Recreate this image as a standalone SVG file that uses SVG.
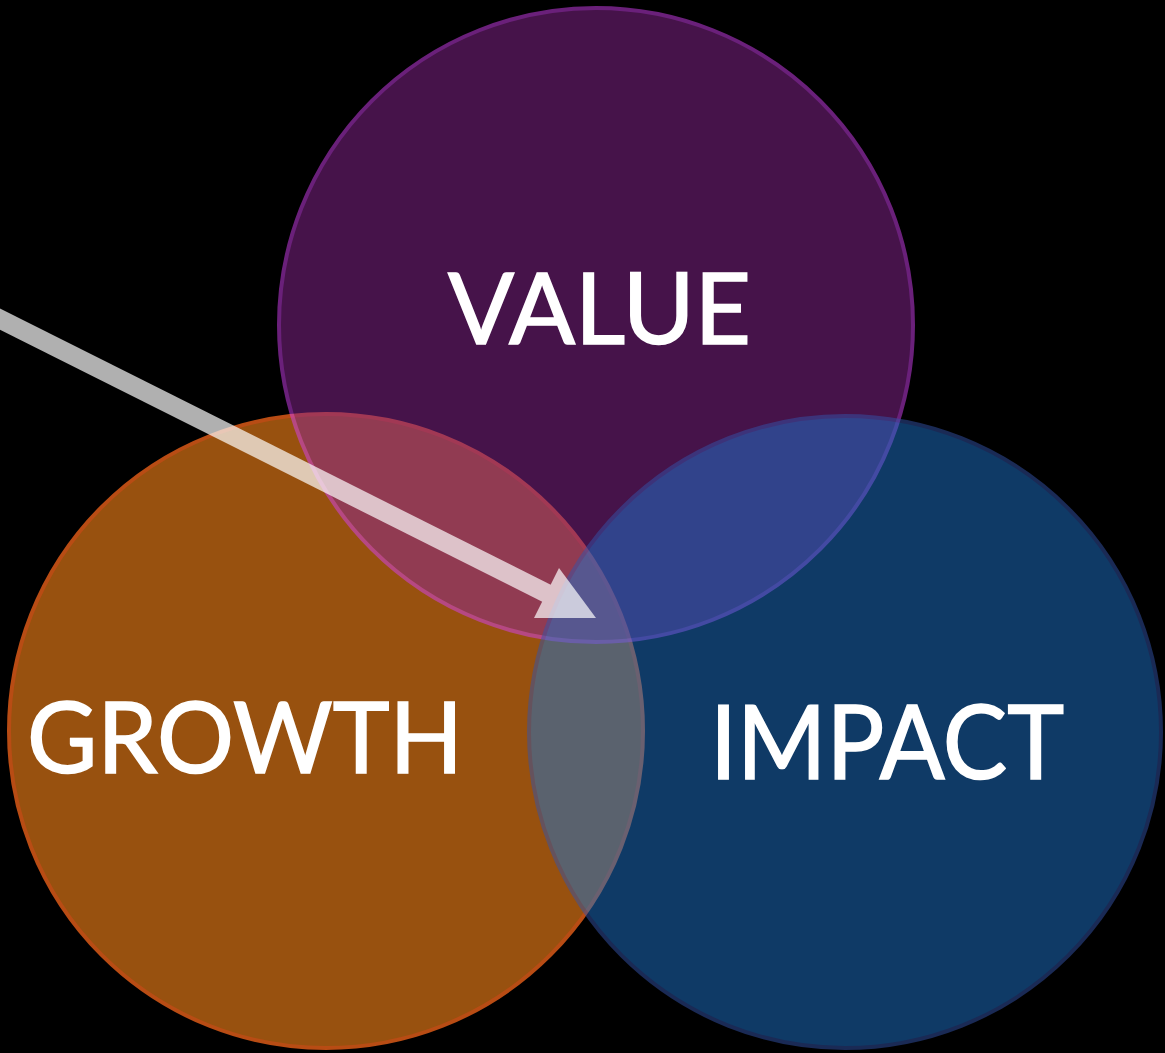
<svg xmlns="http://www.w3.org/2000/svg" width="1165" height="1053" viewBox="0 0 1165 1053">
  <style>
    .label { font-family: Lato, "Liberation Sans", sans-serif; font-weight: 400; fill: #ffffff; stroke: #ffffff; stroke-width: 1.6; stroke-linejoin: miter; }
    .ring { stroke-width: 4; }
  </style>
  <rect x="0" y="0" width="1165" height="1053" fill="#000000"/>
  <g id="node-growth">
    <circle class="ring" cx="326" cy="731" r="317" fill="#98510f" stroke="#b84c14"/>
  </g>
  <g id="node-value" opacity="0.5">
    <circle class="ring" cx="596" cy="325" r="317" fill="#8c2694" stroke="#d440f4"/>
  </g>
  <g id="node-impact" opacity="0.5">
    <circle class="ring" cx="845" cy="732" r="316" fill="#1e74cc" stroke="#3454aa"/>
  </g>
  <g id="labels">
    <text class="label" x="448" y="344" font-size="99" textLength="303" lengthAdjust="spacingAndGlyphs">VALUE</text>
    <text class="label" x="27" y="773" font-size="99" textLength="436" lengthAdjust="spacingAndGlyphs">GROWTH</text>
    <text class="label" x="710" y="779" font-size="102" textLength="354" lengthAdjust="spacingAndGlyphs">IMPACT</text>
  </g>
  <g id="connectors" opacity="0.69">
    <line x1="-20" y1="309" x2="548" y2="594" stroke="#ffffff" stroke-width="19"/>
    <polygon points="534,618 596,618 559,568" fill="#ffffff"/>
  </g>
</svg>
